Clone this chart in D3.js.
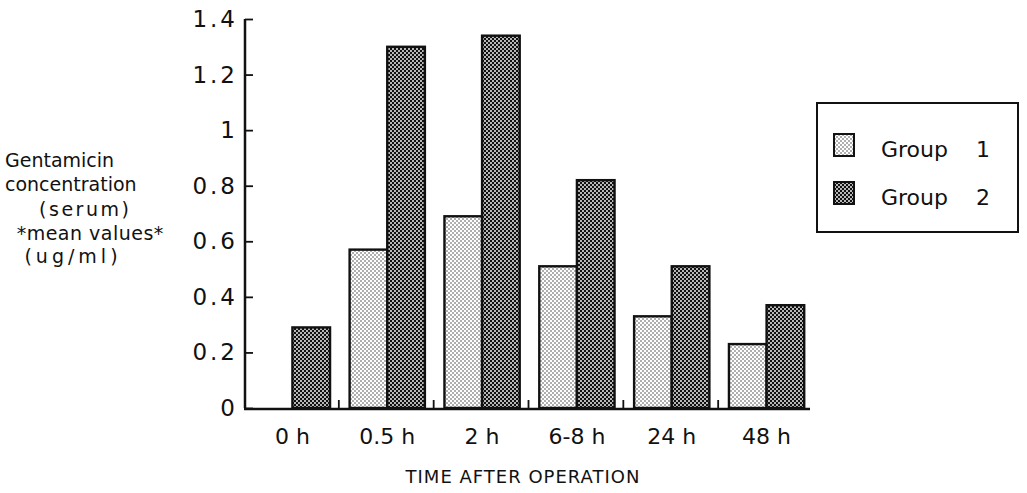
<!DOCTYPE html>
<html>
<head>
<meta charset="utf-8">
<script src="https://cdn.jsdelivr.net/npm/d3@7"></script>
<style>
  body { margin: 0; background: #fff; }
  text { font-family: "DejaVu Sans", sans-serif; fill: #111; }
</style>
</head>
<body>
<div id="chart"></div>
<script>
// data
var times = ['0 h', '0.5 h', '2 h', '6-8 h', '24 h', '48 h'];
var groups = ['1', '2'];
var group1 = [0, 0.57, 0.69, 0.51, 0.33, 0.23];
var group2 = [0.29, 1.30, 1.34, 0.82, 0.51, 0.37];
var yTicks = [0, 0.2, 0.4, 0.6, 0.8, 1, 1.2, 1.4];
var yLabelLines = ['Gentamicin', 'concentration', '(serum)', '*mean values*', '(ug/ml)'];

var width = 1027,
    height = 493,
    margin = {left: 245, right: 215, top: 19, bottom: 85};

var svg = d3.select('#chart').append('svg')
    .attr('width', width)
    .attr('height', height);

// halftone-ish fills
var defs = svg.append('defs');
var p1 = defs.append('pattern')
    .attr('id', 'dots1')
    .attr('width', 4).attr('height', 4)
    .attr('patternUnits', 'userSpaceOnUse');
p1.append('rect').attr('width', 4).attr('height', 4).attr('fill', '#fff');
p1.append('circle').attr('cx', 1).attr('cy', 1).attr('r', 0.7).attr('fill', '#222');
p1.append('circle').attr('cx', 3).attr('cy', 3).attr('r', 0.7).attr('fill', '#222');

var p2 = defs.append('pattern')
    .attr('id', 'dots2')
    .attr('width', 4).attr('height', 4)
    .attr('patternUnits', 'userSpaceOnUse');
p2.append('rect').attr('width', 4).attr('height', 4).attr('fill', '#111');
p2.append('circle').attr('cx', 1).attr('cy', 1).attr('r', 0.95).attr('fill', '#fff');
p2.append('circle').attr('cx', 3).attr('cy', 3).attr('r', 0.95).attr('fill', '#fff');

var fills = ['url(#dots1)', 'url(#dots2)'];

var x0 = d3.scaleBand()
    .domain(times)
    .range([margin.left, width - margin.right + 2]);

var x1 = d3.scaleBand()
    .domain(groups)
    .range([0, x0.bandwidth()])
    .paddingOuter(0.26);

var y = d3.scaleLinear()
    .domain([0, 1.4])
    .range([height - margin.bottom, margin.top]);

var rows = times.map(function (t, i) {
    return {time: t, values: [group1[i], group2[i]]};
});

// bars
var g = svg.append('g');
rows.forEach(function (row) {
    row.values.forEach(function (v, j) {
        if (v <= 0) return;
        g.append('rect')
            .attr('x', x0(row.time) + x1(groups[j]))
            .attr('y', y(v))
            .attr('width', x1.bandwidth())
            .attr('height', y(0) - y(v))
            .attr('fill', fills[j])
            .attr('stroke', '#111')
            .attr('stroke-width', 2.4);
    });
});

// y axis
var yAxis = svg.append('g')
    .attr('transform', 'translate(' + margin.left + ',0)')
    .call(d3.axisRight(y).tickValues(yTicks).tickSize(8).tickFormat(''));
yAxis.select('.domain').attr('stroke', '#111').attr('stroke-width', 2.5)
    .attr('d', 'M0,' + y(1.4) + 'V' + y(0));
yAxis.selectAll('.tick line').attr('stroke', '#111').attr('stroke-width', 1.8);

svg.append('g').selectAll('text')
    .data(yTicks)
    .enter().append('text')
    .attr('x', 238)
    .attr('y', function (d) { return y(d) + 8; })
    .attr('text-anchor', 'end')
    .style('font-size', '23px')
    .style('letter-spacing', '3px')
    .text(function (d) { return String(d); });

// x axis: baseline with small upward ticks between the groups
svg.append('line')
    .attr('x1', margin.left - 1).attr('x2', x0.range()[1] - 4)
    .attr('y1', y(0) + 1).attr('y2', y(0) + 1)
    .attr('stroke', '#111').attr('stroke-width', 2.5);

svg.append('g').selectAll('line')
    .data(times.slice(1))
    .enter().append('line')
    .attr('x1', function (d) { return x0(d) - 1; })
    .attr('x2', function (d) { return x0(d) - 1; })
    .attr('y1', y(0))
    .attr('y2', y(0) - 8)
    .attr('stroke', '#111')
    .attr('stroke-width', 1.8);

svg.append('g').selectAll('text')
    .data(times)
    .enter().append('text')
    .attr('x', function (d) { return x0(d) + x0.bandwidth() / 2; })
    .attr('y', 444)
    .attr('text-anchor', 'middle')
    .style('font-size', '22px')
    .text(function (d) { return d; });

svg.append('text')
    .attr('x', 523)
    .attr('y', 483)
    .attr('text-anchor', 'middle')
    .style('font-size', '18px')
    .style('letter-spacing', '1px')
    .text('TIME AFTER OPERATION');

// y title, lines placed as in the figure
var yLabelPos = [[5, 167, 'start', 0], [5, 191, 'start', 0], [84, 216, 'middle', 2.5], [90, 240, 'middle', 0.5], [71, 263, 'middle', 4]];
svg.append('g').selectAll('text')
    .data(yLabelLines)
    .enter().append('text')
    .attr('x', function (d, i) { return yLabelPos[i][0] + yLabelPos[i][3] / 2; })
    .attr('y', function (d, i) { return yLabelPos[i][1]; })
    .attr('text-anchor', function (d, i) { return yLabelPos[i][2]; })
    .style('font-size', '19px')
    .style('letter-spacing', function (d, i) { return yLabelPos[i][3] + 'px'; })
    .text(function (d) { return d; });

// legend
var legend = svg.append('g');
legend.append('rect')
    .attr('x', 817).attr('y', 103)
    .attr('width', 201).attr('height', 129)
    .attr('fill', 'none')
    .attr('stroke', '#111')
    .attr('stroke-width', 2);

groups.forEach(function (name, i) {
    legend.append('rect')
        .attr('x', 834).attr('y', 134 + i * 48)
        .attr('width', 20).attr('height', 22)
        .attr('fill', fills[i])
        .attr('stroke', '#111')
        .attr('stroke-width', 2);
    legend.append('text')
        .attr('x', 881).attr('y', 157 + i * 48)
        .style('font-size', '22px')
        .text('Group');
    legend.append('text')
        .attr('x', 983).attr('y', 157 + i * 48)
        .attr('text-anchor', 'middle')
        .style('font-size', '22px')
        .text(name);
});
</script>
</body>
</html>
